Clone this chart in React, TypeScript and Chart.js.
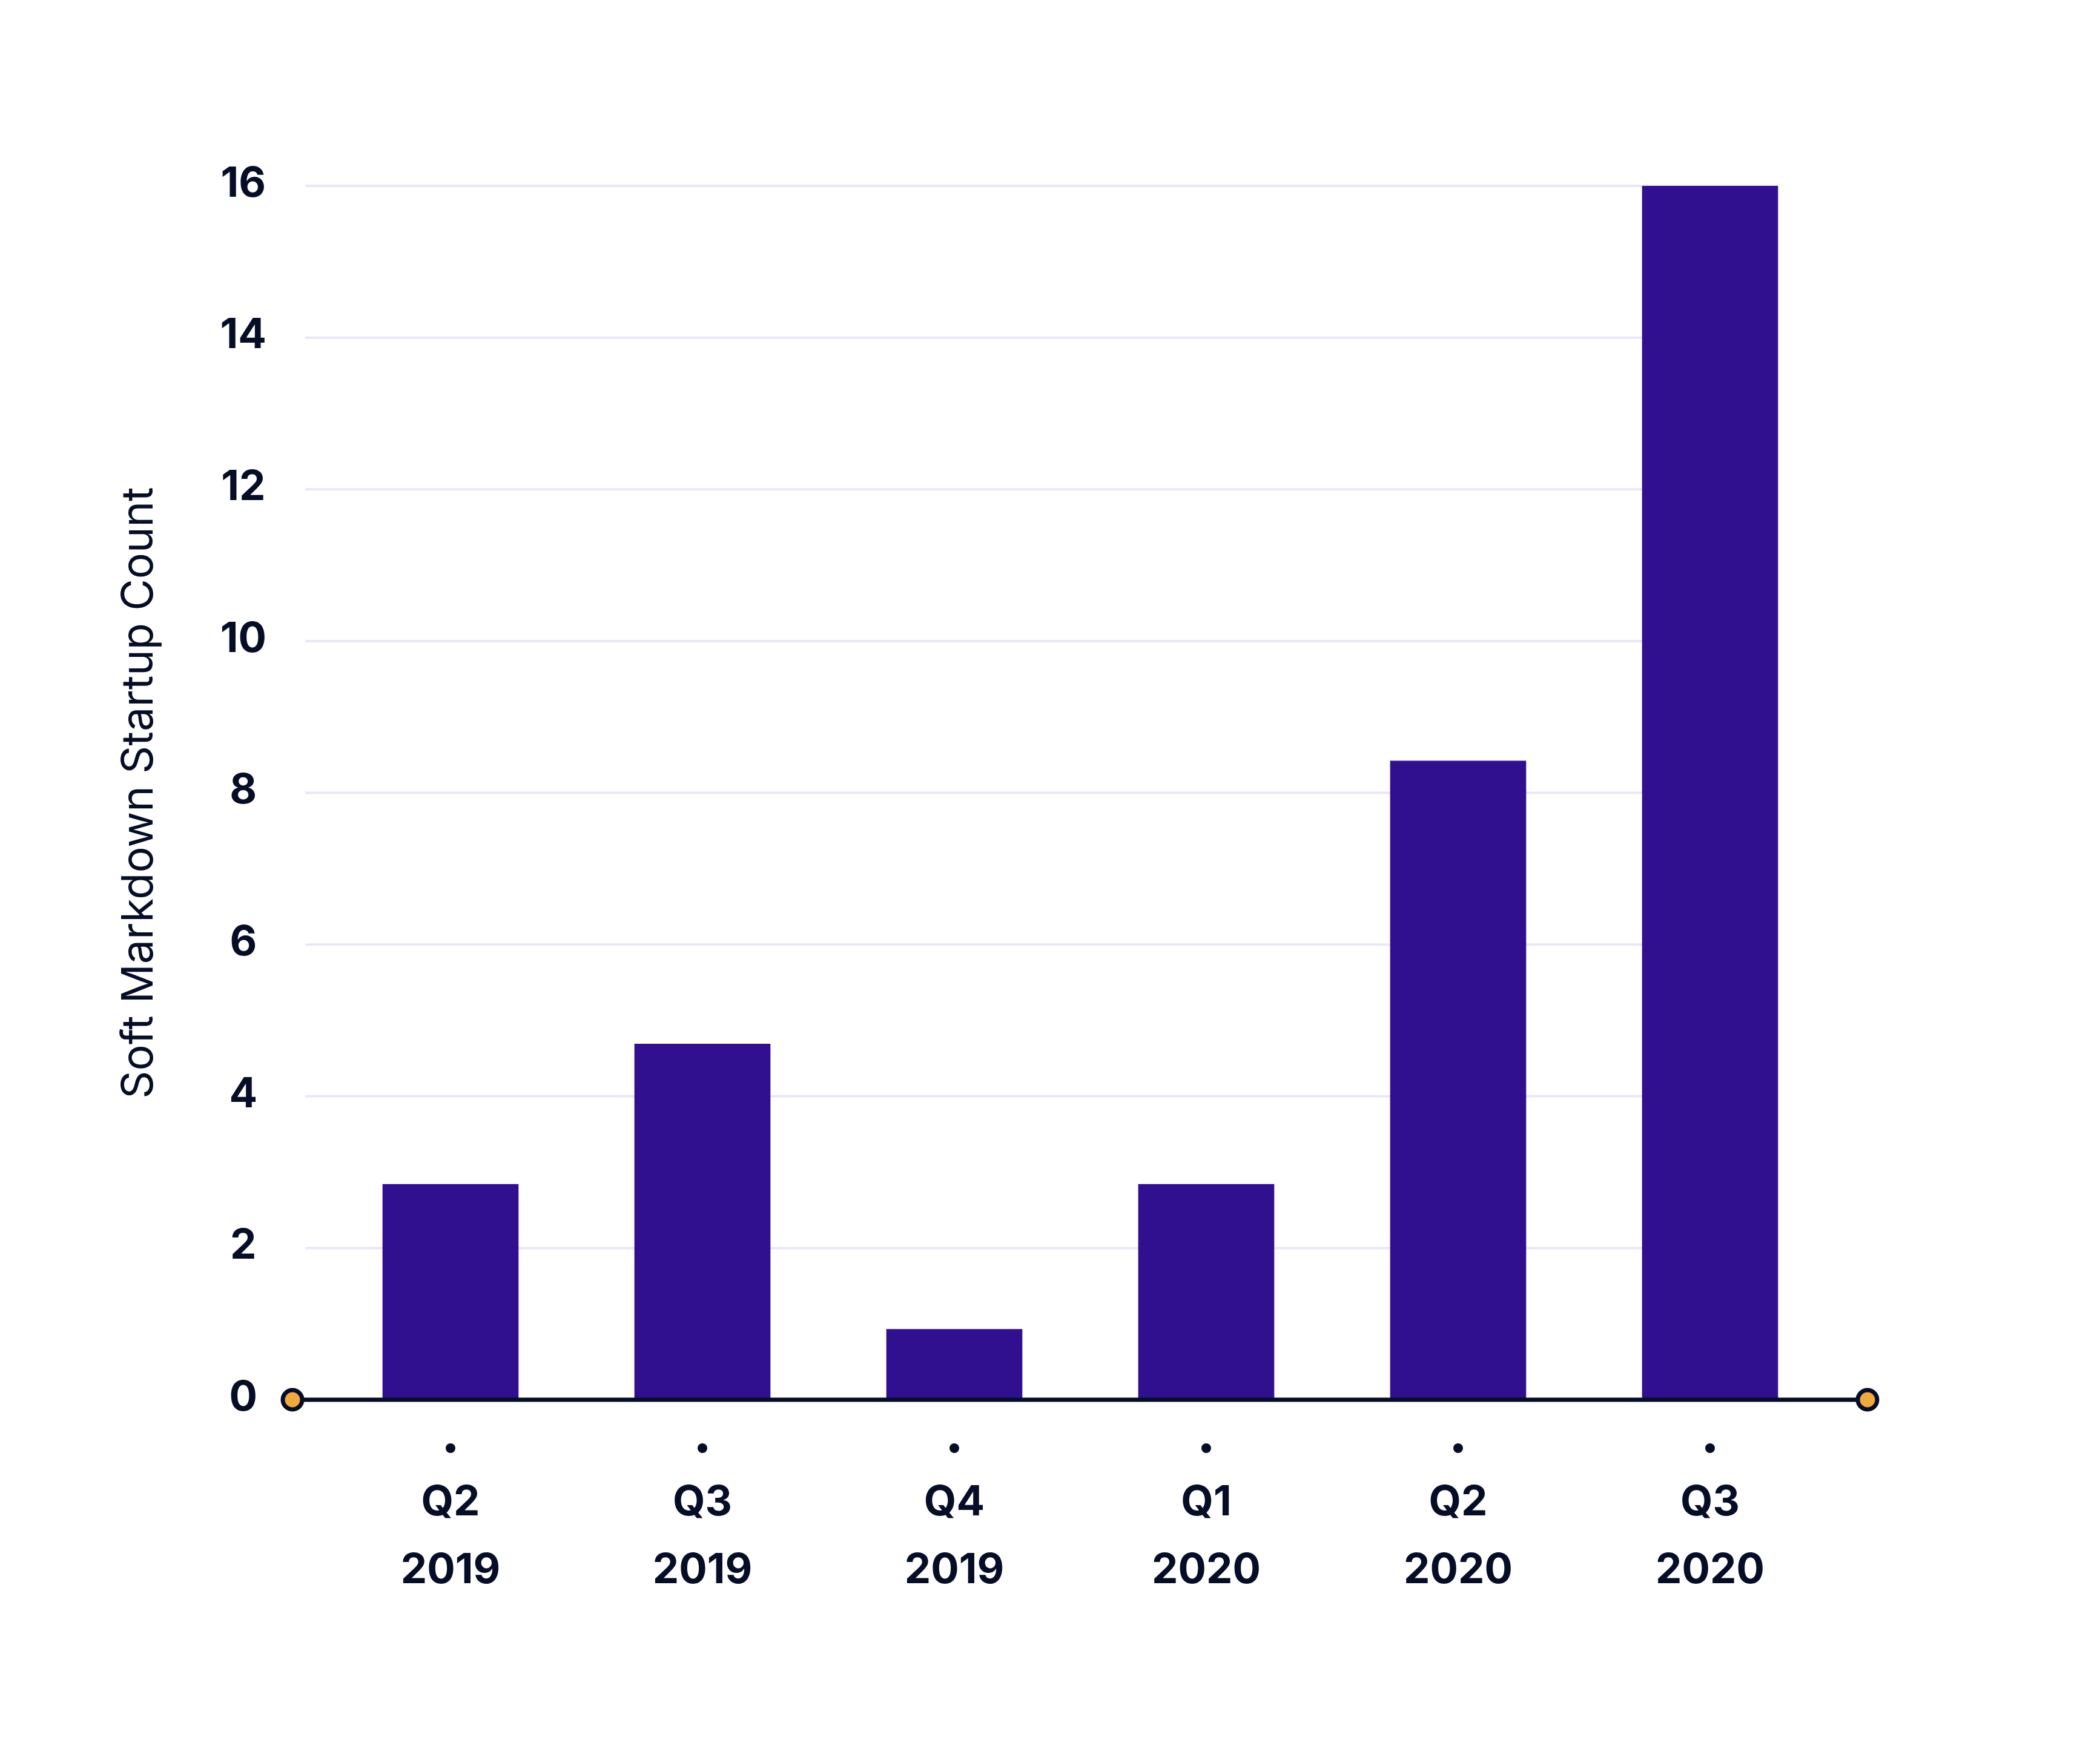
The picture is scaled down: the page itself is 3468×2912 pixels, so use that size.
import React, { useEffect, useRef } from "react";
import { Chart, registerables } from "chart.js";

Chart.register(...registerables);

const categories = ["Q2 2019", "Q3 2019", "Q4 2019", "Q1 2020", "Q2 2020", "Q3 2020"];
const quarterLabels = ["Q2", "Q3", "Q4", "Q1", "Q2", "Q3"];
const yearLabels = ["2019", "2019", "2019", "2020", "2020", "2020"];
const startupCounts = [2.84, 4.69, 0.93, 2.84, 8.42, 16];
const yAxisTitle = "Soft Markdown Startup Count";

const INK = "#060D26";
const BAR = "#31108F";
const GRID = "#EBE6F7";
const ORANGE = "#F0A841";

const decorPlugin = {
  id: "decor",
  beforeDatasetsDraw(chart: any) {
    const { ctx, chartArea, scales } = chart;
    const gl = chartArea.left - 32;
    const gr = chartArea.right - 96;
    ctx.save();
    ctx.strokeStyle = GRID;
    ctx.lineWidth = 4;
    scales.y.ticks.forEach((t: any) => {
      const py = scales.y.getPixelForValue(t.value);
      ctx.beginPath();
      ctx.moveTo(gl, py);
      ctx.lineTo(gr, py);
      ctx.stroke();
    });
    ctx.restore();
  },
  afterDatasetsDraw(chart: any) {
    const { ctx, chartArea, scales } = chart;
    const y0 = scales.y.getPixelForValue(0);
    const xl = chartArea.left - 53;
    const xr = chartArea.right + 52;
    ctx.save();
    ctx.strokeStyle = INK;
    ctx.lineWidth = 7;
    ctx.beginPath();
    ctx.moveTo(xl, y0);
    ctx.lineTo(xr, y0);
    ctx.stroke();
    for (const x of [xl, xr]) {
      ctx.beginPath();
      ctx.arc(x, y0, 16, 0, Math.PI * 2);
      ctx.fillStyle = ORANGE;
      ctx.fill();
      ctx.stroke();
    }
    ctx.fillStyle = INK;
    scales.x.ticks.forEach((_t: any, i: number) => {
      const px = scales.x.getPixelForTick(i);
      ctx.beginPath();
      ctx.arc(px, y0 + 80, 8, 0, Math.PI * 2);
      ctx.fill();
    });
    ctx.restore();
  },
};

export default function App() {
  const ref = useRef<HTMLCanvasElement | null>(null);
  useEffect(() => {
    if (!ref.current) return;
    const chart = new Chart(ref.current, {
      type: "bar",
      data: {
        labels: categories,
        datasets: [
          {
            label: yAxisTitle,
            data: startupCounts,
            backgroundColor: BAR,
            borderWidth: 0,
            barThickness: 224,
          },
        ],
      },
      options: {
        responsive: false,
        animation: false,
        devicePixelRatio: 1,
        layout: { padding: { left: 187, right: 436, top: 307, bottom: 200 } },
        plugins: { legend: { display: false }, tooltip: { enabled: false } },
        scales: {
          x: {
            type: "category",
            offset: true,
            grid: { display: false, drawTicks: false },
            border: { display: false },
            afterFit: (scale: any) => {
              scale.height = 400;
            },
            ticks: {
              autoSkip: false,
              maxRotation: 0,
              minRotation: 0,
              padding: 114,
              color: INK,
              font: { family: "Inter", size: 69, weight: "bold", lineHeight: 1.623 },
              callback: (_value: any, index: number) => [quarterLabels[index], yearLabels[index]],
            },
          },
          y: {
            min: 0,
            max: 16,
            grid: { display: false, drawTicks: false },
            border: { display: false },
            afterFit: (scale: any) => {
              scale.width = 536 - 187;
            },
            ticks: {
              stepSize: 2,
              padding: 96,
              crossAlign: "center",
              labelOffset: -3,
              color: INK,
              font: { family: "Inter", size: 69, weight: "bold" },
            },
            title: {
              display: true,
              text: yAxisTitle,
              color: INK,
              padding: { top: 0, bottom: 0 },
              font: { family: "Inter", size: 72, weight: "normal", lineHeight: 1.2 },
            },
          },
        },
      },
      plugins: [decorPlugin],
    });
    return () => chart.destroy();
  }, []);
  return (
    <div style={{ position: "absolute", left: 0, top: 0, width: 3468, height: 2912, background: "#ffffff" }}>
      <canvas ref={ref} width={3468} height={2912} style={{ width: 3468, height: 2912, display: "block" }} />
    </div>
  );
}
